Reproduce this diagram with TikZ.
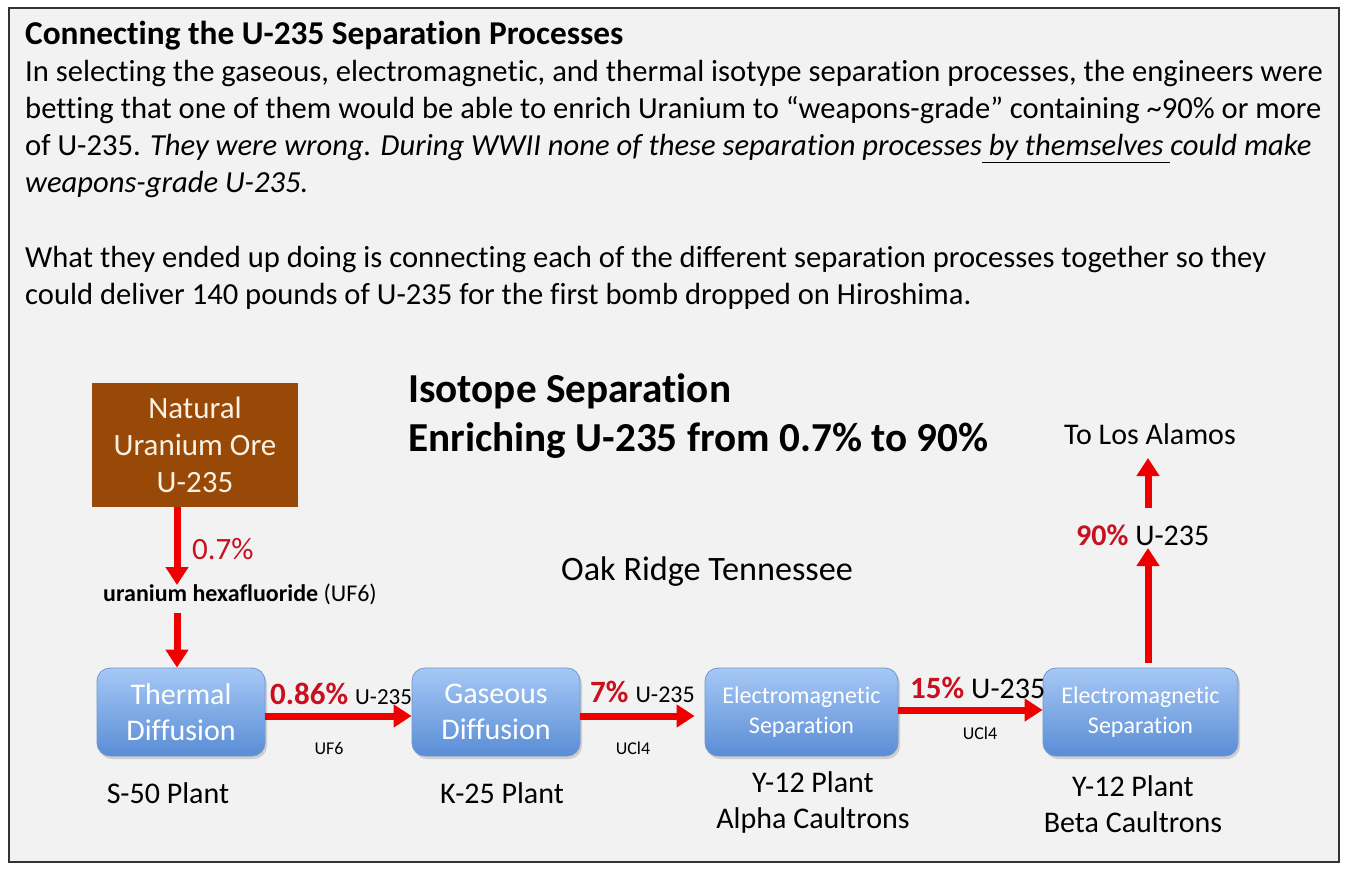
\documentclass[tikz,border=0pt]{standalone}
\usepackage{fontspec}
\setmainfont{Carlito}[Ligatures={NoCommon,NoRare,NoDiscretionary,NoContextual}]
\usetikzlibrary{arrows.meta,shadows}
\definecolor{bggray}{HTML}{F2F2F2}
\definecolor{orebrown}{HTML}{984807}
\definecolor{oretext}{HTML}{FBF1E2}
\definecolor{bluetop}{HTML}{A6C8F5}
\definecolor{bluebot}{HTML}{5A8DD6}
\definecolor{blueedge}{HTML}{6E97CF}
\definecolor{arrred}{HTML}{EE0000}
\definecolor{pctred}{HTML}{C8101E}
\newcommand\fsz[2]{\fontsize{#1}{#2}\selectfont}
\begin{document}
\begin{tikzpicture}[x=1pt,y=-1pt,
  body/.style={anchor=base west,inner sep=0pt,font=\fsz{30.6}{37}},
  plant/.style={anchor=center,inner sep=0pt,align=center,font=\fsz{30}{36}},
  bluebox/.style={rounded corners=13pt,draw=blueedge,line width=0.8pt,
    top color=bluetop,bottom color=bluebot,minimum height=88pt,
    text=white,align=center,inner sep=0pt,
    drop shadow={shadow xshift=2pt,shadow yshift=-3pt,opacity=0.3}},
  redarrow/.style={draw=arrred,line width=7pt,
    -{Triangle[width=22pt,length=18pt]}},
  small/.style={inner sep=0pt,font=\fsz{18}{22}},
  lbl/.style={anchor=base west,inner sep=0pt}]
\useasboundingbox (0,0) rectangle (1351,874);
\fill[white] (0,0) rectangle (1351,874);
\draw[fill=bggray,draw=black!80,line width=1.6pt] (9,8) rectangle (1339,862);

% header text
\node[body,font=\fsz{33.3}{37}\bfseries] (title) at (25,45) {Connecting the U-235 Separation Processes};
\node[body] (l1) at (25,82) {In selecting the gaseous, electromagnetic, and thermal isotype separation processes, the engineers were};
\node[body] (l2) at (25,119) {betting that one of them would be able to enrich Uranium to “weapons-grade” containing \textasciitilde90\% or more};
\node[body] (l3) at (25,156) {of U-235. \itshape They were wrong. During WWII none of these separation processes\underline{\ by themselves\ }could make};
\node[body] (l4) at (25,193) {\itshape weapons-grade U-235.};
\node[body] (l5) at (25,268) {What they ended up doing is connecting each of the different separation processes together so they};
\node[body] (l6) at (25,305) {could deliver 140 pounds of U-235 for the first bomb dropped on Hiroshima.};

% big title
\node[anchor=base west,inner sep=0pt,font=\fsz{41.2}{48}\bfseries] (iso) at (408,402) {Isotope Separation};
\node[anchor=base west,inner sep=0pt,font=\fsz{41.2}{48}\bfseries] (enr) at (408,451) {Enriching U-235 from 0.7\% to 90\%};
\node[inner sep=0pt,font=\fsz{34.2}{40}] (oak) at (707,572) {Oak Ridge Tennessee};

% ore
\node[fill=orebrown,minimum width=206pt,minimum height=124pt,inner sep=0pt,
  text=oretext,align=center,font=\fsz{31}{37}] (ore) at (195,445) {Natural\\Uranium Ore\\U-235};
\node[lbl,font=\fsz{31}{36},text=pctred] (p07) at (192,559) {0.7\%};
\node[inner sep=0pt,font=\fsz{24}{28}] (uf6) at (240,594) {\bfseries uranium hexafluoride \mdseries(UF6)};

% boxes
\node[bluebox,minimum width=168pt,font=\fsz{30}{36}] (td) at (181,712) {Thermal\\Diffusion};
\node[bluebox,minimum width=168pt,font=\fsz{30}{36}] (gd) at (496,712) {Gaseous\\Diffusion};
\node[bluebox,minimum width=193pt,font=\fsz{24}{30}] (em1) at (801.5,712) {Electromagnetic\\Separation};
\node[bluebox,minimum width=195pt,font=\fsz{24}{30}] (em2) at (1140.5,712) {Electromagnetic\\Separation};

% vertical arrows to thermal diffusion
\coordinate (a1end) at (177,585);
\draw[redarrow] (177,0 |- ore.south) -- (a1end);
\coordinate (a2start) at (177,613);
\draw[redarrow] (a2start) -- (177,0 |- td.north);

% horizontal arrows
\draw[redarrow] ([yshift=-4pt]td.east) -- ([yshift=-4pt]gd.west);
\draw[redarrow] ([yshift=-4pt]gd.east) -- ([yshift=-4pt,xshift=-10pt]em1.west);
\draw[redarrow] ([yshift=2pt]em1.east) -- ([yshift=2pt]em2.west);

% labels on arrows
\node[lbl] (lab1) at (270,704) {\fsz{31}{36}\bfseries\textcolor{pctred}{0.86\%} \fsz{23}{28}\mdseries U-235};
\node[small] (uf6b) at (329,748) {UF6};
\node[lbl] (lab2) at (590,702) {\fsz{31}{36}\bfseries\textcolor{pctred}{7\%} \fsz{24}{28}\mdseries U-235};
\node[small] (ucl1) at (633,748) {UCl4};
\node[lbl] (lab3) at (910,698) {\fsz{31}{36}\bfseries\textcolor{pctred}{15\%} \fsz{30}{36}\mdseries U-235};
\node[small] (ucl2) at (980,733) {UCl4};

% upward arrows
\node[lbl] (p90) at (1076,545) {\fsz{30}{34}\bfseries\textcolor{pctred}{90\%} \mdseries U-235};
\node[inner sep=0pt,font=\fsz{30}{36}] (los) at (1150,434) {To Los Alamos};
\coordinate (u1end) at (1148,548);
\draw[redarrow] (1148,0 |- em2.north) ++(0,-5) -- (u1end);
\coordinate (u2start) at (1148,508);
\coordinate (u2end) at (1148,458);
\draw[redarrow] (u2start) -- (u2end);

% plant labels
\node[plant] (s50) at (168,793) {S-50 Plant};
\node[plant] (k25) at (502,793) {K-25 Plant};
\node[plant] (y12a) at (813,802) {Y-12 Plant\\Alpha Caultrons};
\node[plant] (y12b) at (1133,804) {Y-12 Plant\\Beta Caultrons};
\end{tikzpicture}
\end{document}
